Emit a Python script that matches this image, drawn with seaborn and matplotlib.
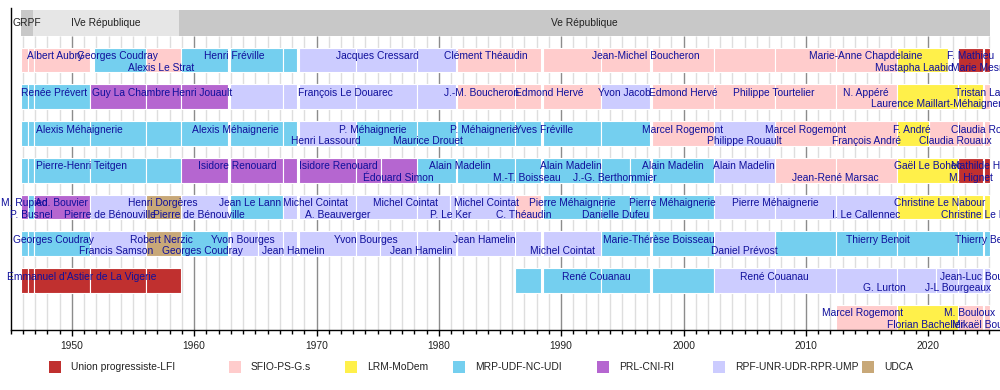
import numpy as np
import pandas as pd
import matplotlib.pyplot as plt
from matplotlib.patches import Rectangle
import seaborn as sns

sns.set_theme(style="white")
plt.rcParams['font.family'] = ['Liberation Sans', 'DejaVu Sans']

PARTIES = ['LFI', 'PS', 'LRM', 'MRP', 'PRL', 'RPF', 'UDCA']
PARTY_LABELS = ['Union progressiste-LFI', 'SFIO-PS-G.s', 'LRM-MoDem', 'MRP-UDF-NC-UDI',
                'PRL-CNI-RI', 'RPF-UNR-UDR-RPR-UMP', 'UDCA']
PARTY_COLORS = ['#c0302f', '#ffcccc', '#fff04a', '#74cfef', '#b566d0', '#ccccff', '#c8a878']

ERAS = ['GRPF', 'IVe République', 'Ve République']
ERA_START = [1945.85, 1946.82, 1958.76]
ERA_END = [1946.82, 1958.76, 2025.05]
ERA_COLORS = ['#c8c8c8', '#e6e6e6', '#c8c8c8']

# (end of outgoing legislature, start of the new one)
ELECTIONS = [(1946.44, 1946.44), (1946.92, 1946.92), (1951.51, 1951.51), (1956.05, 1956.05),
             (1958.94, 1958.94), (1962.77, 1962.93), (1967.25, 1967.25), (1968.41, 1968.53),
             (1973.25, 1973.25), (1978.25, 1978.25), (1981.39, 1981.5), (1986.25, 1986.25),
             (1988.37, 1988.48), (1993.25, 1993.25), (1997.3, 1997.45), (2002.47, 2002.47),
             (2007.47, 2007.47), (2012.47, 2012.47), (2017.47, 2017.47), (2022.47, 2022.47),
             (2024.44, 2024.55)]

# spans: (start, end, party)
ROW1_SPANS = [(1945.85, 1951.51, 'PS'), (1951.85, 1956.05, 'MRP'), (1956.05, 1958.94, 'PS'),
              (1958.94, 1968.41, 'MRP'), (1968.53, 1981.39, 'RPF'), (1981.5, 2017.47, 'PS'),
              (2017.47, 2021.6, 'LRM'), (2022.47, 2025.05, 'LFI')]
ROW2_SPANS = [(1945.85, 1951.51, 'MRP'), (1951.51, 1962.77, 'PRL'), (1962.93, 1981.39, 'RPF'),
              (1981.5, 1993.25, 'PS'), (1993.25, 1997.3, 'RPF'), (1997.45, 2017.47, 'PS'),
              (2017.47, 2024.44, 'LRM'), (2024.55, 2025.05, 'PS')]
ROW3_SPANS = [(1945.85, 1968.41, 'MRP'), (1968.53, 1973.25, 'RPF'), (1973.25, 1997.3, 'MRP'),
              (1997.45, 2002.47, 'PS'), (2002.47, 2007.47, 'RPF'), (2007.47, 2017.47, 'PS'),
              (2017.47, 2020.1, 'LRM'), (2020.1, 2025.05, 'PS')]
ROW4_SPANS = [(1945.85, 1958.94, 'MRP'), (1958.94, 1975.25, 'PRL'), (1975.25, 1978.25, 'PRL'),
              (1978.25, 1995.65, 'MRP'), (1995.65, 2002.47, 'MRP'), (2002.47, 2007.47, 'RPF'),
              (2007.47, 2017.47, 'PS'), (2017.47, 2022.47, 'LRM'), (2022.47, 2025.05, 'LFI')]
ROW5_SPANS = [(1945.85, 1946.44, 'PRL'), (1946.44, 1946.92, 'MRP'), (1946.92, 1951.51, 'PRL'),
              (1951.51, 1956.05, 'RPF'), (1956.05, 1958.94, 'UDCA'), (1958.94, 1962.77, 'RPF'),
              (1962.93, 1967.25, 'MRP'), (1967.25, 1980.95, 'RPF'), (1980.95, 1986.25, 'RPF'),
              (1986.25, 1988.37, 'PS'), (1988.48, 1995.6, 'MRP'), (1995.6, 2002.47, 'MRP'),
              (2002.47, 2017.47, 'RPF'), (2017.47, 2025.05, 'LRM')]
ROW6_SPANS = [(1945.85, 1951.51, 'MRP'), (1951.51, 1956.05, 'RPF'), (1956.05, 1958.94, 'UDCA'),
              (1958.94, 1962.77, 'MRP'), (1962.93, 1965.2, 'RPF'), (1965.2, 1975.15, 'RPF'),
              (1975.15, 1993.25, 'RPF'), (1993.25, 2002.47, 'MRP'), (2002.47, 2007.47, 'RPF'),
              (2007.47, 2025.05, 'MRP')]
ROW7_SPANS = [(1945.85, 1958.94, 'LFI'), (1986.25, 2002.47, 'MRP'), (2002.47, 2020.6, 'RPF'),
              (2020.6, 2025.05, 'RPF')]
ROW8_SPANS = [(2012.47, 2017.47, 'PS'), (2017.47, 2022.47, 'LRM'), (2022.47, 2025.05, 'PS')]

# labels: (year, name, on lower line)
ROW1_NAMES = [(1948.65, 'Albert Aubry', 0), (1953.75, 'Georges Coudray', 0),
              (1957.3, 'Alexis Le Strat', 1), (1963.3, 'Henri Fréville', 0),
              (1975.0, 'Jacques Cressard', 0), (1983.85, 'Clément Théaudin', 0),
              (1996.9, 'Jean-Michel Boucheron', 0), (2014.9, 'Marie-Anne Chapdelaine', 0),
              (2018.9, 'Mustapha Laabid', 1), (2023.5, 'F. Mathieu', 0),
              (2024.8, 'Marie Mesmeur', 1)]
ROW2_NAMES = [(1948.55, 'Renée Prévert', 0), (1954.85, 'Guy La Chambre', 0),
              (1960.65, 'Henri Jouault', 0), (1972.4, 'François Le Douarec', 0),
              (1983.5, 'J.-M. Boucheron', 0), (1989.0, 'Edmond Hervé', 0),
              (1995.2, 'Yvon Jacob', 0), (2000.0, 'Edmond Hervé', 0),
              (2007.4, 'Philippe Tourtelier', 0), (2014.9, 'N. Appéré', 0),
              (2021.0, 'Laurence Maillart-Méhaignerie', 1), (2024.8, 'Tristan Lahais', 0)]
ROW3_NAMES = [(1950.6, 'Alexis Méhaignerie', 0), (1963.4, 'Alexis Méhaignerie', 0),
              (1970.8, 'Henri Lassourd', 1), (1974.6, 'P. Méhaignerie', 0),
              (1979.1, 'Maurice Drouet', 1), (1983.7, 'P. Méhaignerie', 0),
              (1988.6, 'Yves Fréville', 0), (1999.95, 'Marcel Rogemont', 0),
              (2004.95, 'Philippe Rouault', 1), (2009.95, 'Marcel Rogemont', 0),
              (2014.95, 'François André', 1), (2018.7, 'F. André', 0),
              (2022.2, 'Claudia Rouaux', 1), (2024.8, 'Claudia Rouaux', 0)]
ROW4_NAMES = [(1950.75, 'Pierre-Henri Teitgen', 0), (1963.55, 'Isidore Renouard', 0),
              (1971.8, 'Isidore Renouard', 0), (1976.7, 'Édouard Simon', 1),
              (1981.75, 'Alain Madelin', 0), (1987.2, 'M.-T. Boisseau', 1),
              (1990.8, 'Alain Madelin', 0), (1994.4, 'J.-G. Berthommier', 1),
              (1999.15, 'Alain Madelin', 0), (2004.9, 'Alain Madelin', 0),
              (2012.4, 'Jean-René Marsac', 1), (2019.95, 'Gaël Le Bohec', 0),
              (2023.5, 'M. Hignet', 1), (2024.8, 'Mathilde Hignet', 0)]
ROW5_NAMES = [(1946.1, 'M. Rupied', 0), (1946.66, 'P. Busnel', 1), (1949.15, 'Ad. Bouvier', 0),
              (1953.1, 'Pierre de Bénouville', 1), (1957.4, 'Henri Dorgères', 0),
              (1960.4, 'Pierre de Bénouville', 1), (1964.6, 'Jean Le Lann', 0),
              (1969.9, 'Michel Cointat', 0), (1971.7, 'A. Beauverger', 1),
              (1977.3, 'Michel Cointat', 0), (1981.0, 'P. Le Ker', 1),
              (1983.9, 'Michel Cointat', 0), (1986.9, 'C. Théaudin', 1),
              (1990.9, 'Pierre Méhaignerie', 0), (1994.4, 'Danielle Dufeu', 1),
              (1999.05, 'Pierre Méhaignerie', 0), (2007.5, 'Pierre Méhaignerie', 0),
              (2014.9, 'I. Le Callennec', 1), (2020.9, 'Christine Le Nabour', 0),
              (2024.8, 'Christine Le Nabour', 1)]
ROW6_NAMES = [(1948.5, 'Georges Coudray', 0), (1953.6, 'Francis Samson', 1),
              (1957.3, 'Robert Nerzic', 0), (1960.7, 'Georges Coudray', 1),
              (1963.95, 'Yvon Bourges', 0), (1968.1, 'Jean Hamelin', 1),
              (1974.05, 'Yvon Bourges', 0), (1978.6, 'Jean Hamelin', 1),
              (1983.7, 'Jean Hamelin', 0), (1990.1, 'Michel Cointat', 1),
              (1998.0, 'Marie-Thérèse Boisseau', 0), (2004.95, 'Daniel Prévost', 1),
              (2015.9, 'Thierry Benoit', 0), (2024.8, 'Thierry Benoit', 0)]
ROW7_NAMES = [(1950.8, "Emmanuel d'Astier de La Vigerie", 0), (1992.85, 'René Couanau', 0),
              (2007.45, 'René Couanau', 0), (2016.4, 'G. Lurton', 1),
              (2022.45, 'J-L Bourgeaux', 1), (2024.8, 'Jean-Luc Bourgeaux', 0)]
ROW8_NAMES = [(2014.6, 'Marcel Rogemont', 0), (2019.8, 'Florian Bachelier', 1),
              (2023.4, 'M. Bouloux', 0), (2024.8, 'Mikaël Bouloux', 1)]

ROWS_SPANS = [ROW1_SPANS, ROW2_SPANS, ROW3_SPANS, ROW4_SPANS,
              ROW5_SPANS, ROW6_SPANS, ROW7_SPANS, ROW8_SPANS]
ROWS_NAMES = [ROW1_NAMES, ROW2_NAMES, ROW3_NAMES, ROW4_NAMES,
              ROW5_NAMES, ROW6_NAMES, ROW7_NAMES, ROW8_NAMES]


def split_span(start, end):
    # cut a span at every election inside it
    pieces = []
    cur = start
    for old_end, new_start in ELECTIONS:
        if cur < old_end and new_start < end:
            pieces.append((cur, old_end))
            cur = new_start
    pieces.append((cur, end))
    return pieces


records = []
for i, spans in enumerate(ROWS_SPANS):
    for start, end, party in spans:
        for a, b in split_span(start, end):
            records.append({'row': i, 'start': a, 'end': b, 'party': party})
seg = pd.DataFrame(records)
seg['width'] = seg['end'] - seg['start']

color_of = dict(zip(PARTIES, PARTY_COLORS))
NAME_COLOR = '#10109c'
FS = 7.4

fig = plt.figure(figsize=(10, 3.9), dpi=100)
ax = fig.add_axes([0.0107, 1 - 330 / 390, 1 - 0.0107, 322 / 390])
Y_BOTTOM, Y_TOP = 7.347, -1.415
HEADER_BOTTOM = -0.653

# year grid
years = np.arange(1946, 2026)
minor = years[years % 10 != 0]
major = years[years % 10 == 0]
ax.vlines(minor, HEADER_BOTTOM, Y_BOTTOM, colors='#dedede', lw=1, zorder=0)
ax.vlines(major, HEADER_BOTTOM, Y_BOTTOM, colors='#8c8c8c', lw=1, zorder=0.5)

# header bands
ax.barh([-1] * len(ERAS), np.subtract(ERA_END, ERA_START), left=ERA_START,
        height=0.71, color=ERA_COLORS, edgecolor='none', zorder=1)
for name, a, b in zip(ERAS, ERA_START, ERA_END):
    ax.text((a + b) / 2, -1, name, ha='center', va='center', fontsize=FS,
            color='#222222', zorder=4)

for party in PARTIES:
    d = seg[seg['party'] == party]
    if d.empty:
        continue
    ax.barh(d['row'], d['width'], left=d['start'], height=0.68,
            color=color_of[party], edgecolor='white', linewidth=0.8, zorder=2)

for i, names in enumerate(ROWS_NAMES):
    for year, name, low in names:
        ax.text(year, i + (0.205 if low else -0.105), name, ha='center', va='center',
                fontsize=FS, color=NAME_COLOR, zorder=4, clip_on=False)

ax.set_xlim(1945, 2025.87)
ax.set_ylim(Y_BOTTOM, Y_TOP)
ax.set_yticks([])
ax.set_xticks(major)
ax.set_xticks(np.arange(1945, 2026), minor=True)
ax.tick_params(axis='x', which='major', length=4, width=1, color='black',
               labelsize=FS, labelcolor='#222222', pad=4, bottom=True)
ax.tick_params(axis='x', which='minor', length=3, width=1, color='black', bottom=True)
sns.despine(ax=ax, top=True, right=True)
for side in ['left', 'bottom']:
    ax.spines[side].set_color('black')
    ax.spines[side].set_linewidth(1)

# legend row
LEG_X = [49, 229, 345, 453, 597, 713, 862]
for x, label, color in zip(LEG_X, PARTY_LABELS, PARTY_COLORS):
    fig.add_artist(Rectangle((x / 1000, 1 - 373 / 390), 12 / 1000, 12 / 390,
                             transform=fig.transFigure, color=color, lw=0))
    fig.text((x + 22) / 1000, 1 - 367 / 390, label, ha='left', va='center',
             fontsize=FS, color='#222222')

fig.savefig('out.png', dpi=100)
